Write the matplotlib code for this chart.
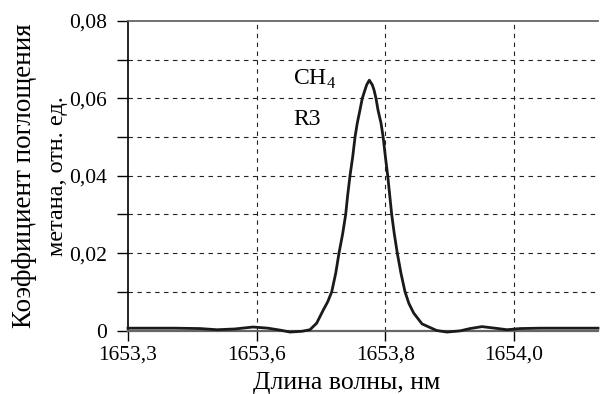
import matplotlib
matplotlib.use("Agg")
import matplotlib.pyplot as plt
from matplotlib.ticker import FixedLocator, MultipleLocator

plt.rcParams['font.family'] = ['Liberation Serif', 'DejaVu Serif']
plt.rcParams['mathtext.fontset'] = 'custom'
plt.rcParams['mathtext.rm'] = 'Liberation Serif'

# Data (wavelength, nm ; absorption coefficient, rel. units)
wavelength = [1653.4000, 1653.4342, 1653.4730, 1653.5119, 1653.5383, 1653.5663,
              1653.5943, 1653.6176, 1653.6362, 1653.6517, 1653.6704, 1653.6828,
              1653.6932, 1653.7035, 1653.7103, 1653.7166, 1653.7228, 1653.7279,
              1653.7336, 1653.7383, 1653.7414, 1653.7450, 1653.7492, 1653.7528,
              1653.7563, 1653.7605, 1653.7641, 1653.7683, 1653.7709, 1653.7750,
              1653.7796, 1653.7823, 1653.7854, 1653.7885, 1653.7932, 1653.7965,
              1653.8000, 1653.8036, 1653.8067, 1653.8098, 1653.8138, 1653.8185,
              1653.8242, 1653.8305, 1653.8365, 1653.8440, 1653.8570, 1653.8797,
              1653.8957, 1653.9159, 1653.9315, 1653.9501, 1653.9703, 1653.9890,
              1654.0092, 1654.0402, 1654.0869, 1654.1304]
absorption = [0.0006, 0.0006, 0.0006, 0.0005, 0.0002, 0.0004,
              0.0009, 0.0006, 0.0001, -0.0004, -0.0002, 0.0002,
              0.0019, 0.0053, 0.0074, 0.0100, 0.0148, 0.0200,
              0.0250, 0.0300, 0.0350, 0.0400, 0.0449, 0.0500,
              0.0536, 0.0570, 0.0600, 0.0622, 0.0635, 0.0647,
              0.0635, 0.0622, 0.0600, 0.0570, 0.0536, 0.0500,
              0.0449, 0.0400, 0.0350, 0.0300, 0.0250, 0.0200,
              0.0148, 0.0100, 0.0070, 0.0045, 0.0017, 0.0000,
              -0.0004, -0.0001, 0.0005, 0.0010, 0.0006, 0.0002,
              0.0005, 0.0006, 0.0006, 0.0006]

x_ticks = [1653.4, 1653.6, 1653.8, 1654.0]
x_tick_labels = ["1653,3", "1653,6", "1653,8", "1654,0"]
y_ticks = [0, 0.02, 0.04, 0.06, 0.08]
y_tick_labels = ["0", "0,02", "0,04", "0,06", "0,08"]

fig = plt.figure(figsize=(6.0, 3.94), dpi=100)
ax = fig.add_axes([128/600, 1 - 330.5/394, (598-128)/600, (330.5-21)/394])

ax.set_xlim(1653.4, 1654.1304)
ax.set_ylim(0, 0.08)

grid_kw = dict(color='#222222', lw=0.8, dashes=(4, 4))
for xv in x_ticks[1:]:
    ax.axvline(xv, **grid_kw, zorder=1)
for yv in [0.01, 0.02, 0.03, 0.04, 0.05, 0.06, 0.07]:
    ax.axhline(yv, **grid_kw, zorder=1)

ax.plot(wavelength, absorption, color='#1a1a1a', lw=2.0, zorder=3, clip_on=False,
        solid_joinstyle='round')

ax.xaxis.set_major_locator(FixedLocator(x_ticks))
ax.set_xticklabels(x_tick_labels)
ax.yaxis.set_major_locator(FixedLocator(y_ticks))
ax.set_yticklabels(y_tick_labels)
ax.yaxis.set_minor_locator(MultipleLocator(0.01))

ax.tick_params(axis='both', which='major', labelsize=15.5, direction='out', color='black', width=1.0)
ax.tick_params(axis='y', which='major', length=8, pad=7)
ax.tick_params(axis='y', which='minor', length=8, width=1.0)
ax.tick_params(axis='x', which='major', length=7, pad=4)

ax.spines['right'].set_visible(False)
ax.spines['left'].set_color('black')
ax.spines['left'].set_linewidth(1.2)
ax.spines['top'].set_color('#666666')
ax.spines['top'].set_linewidth(1.3)
ax.spines['bottom'].set_color('#666666')
ax.spines['bottom'].set_linewidth(1.6)

ax.text(1653.6564, 0.0634, "CH$_4$", fontsize=17, ha='left', va='baseline')
ax.text(1653.6564, 0.0531, "R3", fontsize=17, ha='left', va='baseline')

fig.text(347/600, 1 - 383/394, "Длина волны, нм", fontsize=18.5, ha='center', va='center')
fig.text(25/600, 1 - 176/394, "Коэффициент поглощения", fontsize=19.5, rotation=90,
         ha='center', va='center')
fig.text(58/600, 1 - 176/394, "метана, отн. ед.", fontsize=17.5, rotation=90,
         ha='center', va='center')

fig.savefig("out.png", dpi=100)
